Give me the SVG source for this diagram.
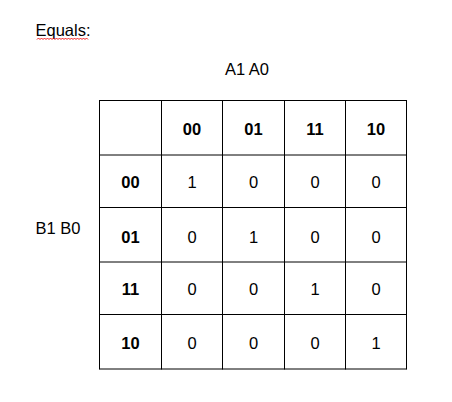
<svg xmlns="http://www.w3.org/2000/svg" width="452" height="402" viewBox="0 0 452 402">
<style>
text{font-family:"Liberation Sans",Arial,sans-serif;font-size:16.5px;fill:#000}
.b{font-weight:bold}
.c{text-anchor:middle}
.g line{stroke:#000;stroke-width:1}
</style>
<rect width="452" height="402" fill="#fff"/>
<g id="title">
<text x="35.5" y="36">Equals:</text>
<path d="M37 39.5 l1.5 -1.5 l1.5 1.5 l1.5 -1.5 l1.5 1.5 l1.5 -1.5 l1.5 1.5 l1.5 -1.5 l1.5 1.5 l1.5 -1.5 l1.5 1.5 l1.5 -1.5 l1.5 1.5 l1.5 -1.5 l1.5 1.5 l1.5 -1.5 l1.5 1.5 l1.5 -1.5 l1.5 1.5 l1.5 -1.5 l1.5 1.5 l1.5 -1.5 l1.5 1.5 l1.5 -1.5 l1.5 1.5 l1.5 -1.5 l1.5 1.5 l1.5 -1.5 l1.5 1.5 l1.5 -1.5 l1.5 1.5 l1.5 -1.5 l1.5 1.5 l1.5 -1.5 l1.5 1.5" fill="none" stroke="#e00" stroke-width="0.9"/>
</g>
<g id="label-a"><text class="c" x="247" y="75">A1 A0</text></g>
<g id="label-b"><text x="35.5" y="234">B1 B0</text></g>
<g id="grid" class="g">
<line x1="99.5" y1="100.5" x2="406.5" y2="100.5"/>
<line x1="99.5" y1="155" x2="406.5" y2="155"/>
<line x1="99.5" y1="207.5" x2="406.5" y2="207.5"/>
<line x1="99.5" y1="262" x2="406.5" y2="262"/>
<line x1="99.5" y1="314.5" x2="406.5" y2="314.5"/>
<line x1="99.5" y1="369" x2="406.5" y2="369"/>
<line x1="99.5" y1="100" x2="99.5" y2="369.5"/>
<line x1="161.5" y1="100" x2="161.5" y2="369.5"/>
<line x1="222.5" y1="100" x2="222.5" y2="369.5"/>
<line x1="284.5" y1="100" x2="284.5" y2="369.5"/>
<line x1="345.5" y1="100" x2="345.5" y2="369.5"/>
<line x1="406.5" y1="100" x2="406.5" y2="369.5"/>
</g>
<g id="col-headers" class="b c">
<text class="b c" x="192" y="135">00</text>
<text class="b c" x="253.5" y="135">01</text>
<text class="b c" x="315" y="135">11</text>
<text class="b c" x="376" y="135">10</text>
</g>
<g id="row-headers">
<text class="b c" x="130.5" y="187.5">00</text>
<text class="b c" x="130.5" y="242.5">01</text>
<text class="b c" x="130.5" y="295">11</text>
<text class="b c" x="130.5" y="349">10</text>
</g>
<g id="row-00">
<text class="c" x="192" y="187.5">1</text>
<text class="c" x="253.5" y="187.5">0</text>
<text class="c" x="315" y="187.5">0</text>
<text class="c" x="376" y="187.5">0</text>
</g>
<g id="row-01">
<text class="c" x="192" y="242.5">0</text>
<text class="c" x="253.5" y="242.5">1</text>
<text class="c" x="315" y="242.5">0</text>
<text class="c" x="376" y="242.5">0</text>
</g>
<g id="row-11">
<text class="c" x="192" y="295">0</text>
<text class="c" x="253.5" y="295">0</text>
<text class="c" x="315" y="295">1</text>
<text class="c" x="376" y="295">0</text>
</g>
<g id="row-10">
<text class="c" x="192" y="349">0</text>
<text class="c" x="253.5" y="349">0</text>
<text class="c" x="315" y="349">0</text>
<text class="c" x="376" y="349">1</text>
</g>
</svg>
